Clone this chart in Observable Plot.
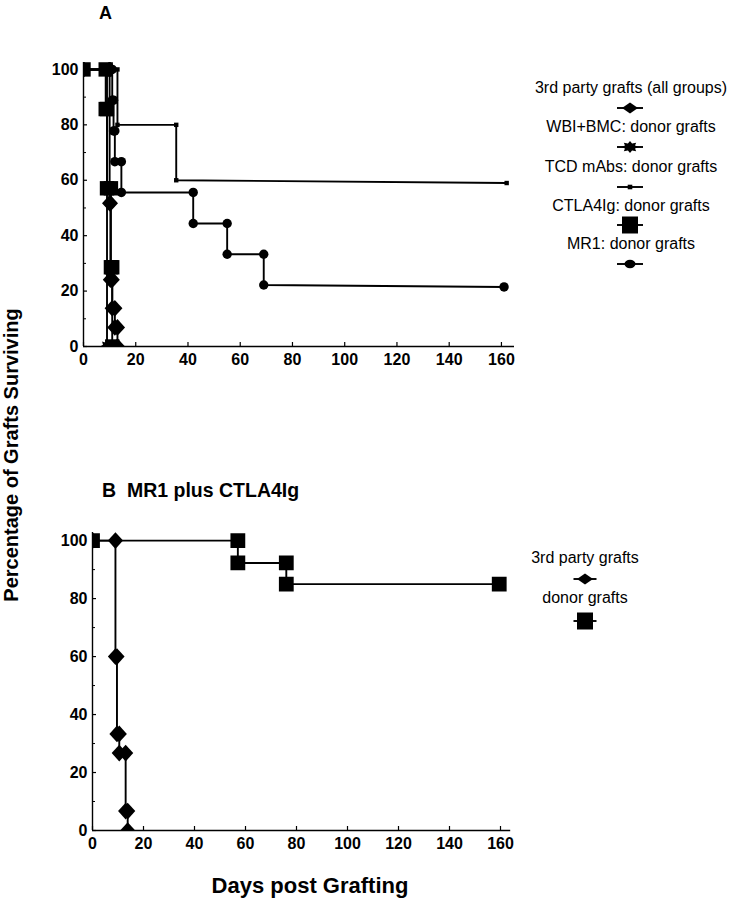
<!DOCTYPE html>
<html><head><meta charset="utf-8">
<script src="https://cdn.jsdelivr.net/npm/d3@7"></script>
<script src="https://cdn.jsdelivr.net/npm/@observablehq/plot@0.6"></script>
<style>
body{margin:0;background:#fff;}
#wrap{position:relative;width:732px;height:899px;overflow:hidden;font-family:"Liberation Sans",Arial,Helvetica,sans-serif;}
#wrap svg{position:absolute;}
</style></head><body><div id="wrap"></div>
<script>
// ---------- Panel A data (day, % surviving), vertices of Kaplan-Meier steps ----------
const aThirdDays  = [0, 10, 10, 10.3, 10.3, 11, 11, 12, 12, 13, 13];
const aThirdPct   = [100, 100, 51.7, 51.7, 24.1, 24.1, 13.8, 13.8, 6.9, 6.9, 0];
const aWbiDays    = [0, 9, 9];
const aWbiPct     = [100, 100, 0];
const aTcdDays    = [0, 13, 13, 35.5, 35.5, 162];
const aTcdPct     = [100, 100, 80, 80, 60, 59];
const aCtlaDays   = [0, 8.5, 8.5, 9, 9, 10.5, 10.5, 11, 11];
const aCtlaPct    = [100, 100, 85.7, 85.7, 57.1, 57.1, 28.6, 28.6, 0];
const aMr1Days    = [0, 11, 11, 11.5, 11.5, 12, 12, 14.5, 14.5, 42, 42, 55, 55, 69, 69, 161];
const aMr1Pct     = [100, 100, 88.9, 88.9, 77.8, 77.8, 66.7, 66.7, 55.6, 55.6, 44.4, 44.4, 33.3, 33.3, 22.2, 21.5];
const legendA     = ["3rd party grafts (all groups)", "WBI+BMC: donor grafts", "TCD mAbs: donor grafts", "CTLA4Ig: donor grafts", "MR1: donor grafts"];

// ---------- Panel B data ----------
const bThirdDays  = [0, 9, 9, 9.6, 9.6, 10.5, 10.5, 13, 13, 13.8, 13.8];
const bThirdPct   = [100, 100, 60, 60, 33.3, 33.3, 26.7, 26.7, 6.7, 6.7, 0];
const bDonorDays  = [0, 57, 57, 76, 76, 159.5];
const bDonorPct   = [100, 100, 92.3, 92.3, 85, 85];
const legendB     = ["3rd party grafts", "donor grafts"];

// ---------- tick values ----------
const xTicks = [0, 20, 40, 60, 80, 100, 120, 140, 160];
const yTicks = [0, 20, 40, 60, 80, 100];
const yMinor = [10, 30, 50, 70, 90];

// ---------- marker shapes ----------
const symDiamond = {draw(c, s){const r = Math.sqrt(s/Math.PI); c.moveTo(0,-r*1.1); c.lineTo(r,0); c.lineTo(0,r*1.1); c.lineTo(-r,0); c.closePath();}};
const symSquare = {draw(c, s){const r = Math.sqrt(s/Math.PI); c.moveTo(-r,-r); c.lineTo(r,-r); c.lineTo(r,r); c.lineTo(-r,r); c.closePath();}};
const symStar = {draw(c, s){const r = Math.sqrt(s/Math.PI); for (let i = 0; i < 16; i++){const a = i*Math.PI/8 - Math.PI/2; const rr = i % 2 ? r*0.62 : r; const x = rr*Math.cos(a), y = rr*Math.sin(a); if (i) c.lineTo(x,y); else c.moveTo(x,y);} c.closePath();}};

function rows(group, days, pct){ return days.map((d, i) => ({group, day: d, pct: pct[i]})); }

const seriesA = [
  {rows: rows(legendA[0], aThirdDays, aThirdPct), sym: symDiamond, r: 7.6},
  {rows: rows(legendA[1], aWbiDays, aWbiPct), sym: symStar, r: 7},
  {rows: rows(legendA[2], aTcdDays, aTcdPct), sym: symSquare, r: 2.2},
  {rows: rows(legendA[3], aCtlaDays, aCtlaPct), sym: symSquare, r: 7.2},
  {rows: rows(legendA[4], aMr1Days, aMr1Pct), sym: "circle", r: 4.7}
];
const seriesB = [
  {rows: rows(legendB[0], bThirdDays, bThirdPct), sym: symDiamond, r: 7.6},
  {rows: rows(legendB[1], bDonorDays, bDonorPct), sym: symSquare, r: 7.4}
];

const font = {fontFamily: '"Liberation Sans", Arial, sans-serif', fontSize: "16px", fontWeight: "bold", color: "black", background: "white", overflow: "visible"};

function panel(series, o){
  const marks = [
    Plot.ruleX([0], {stroke: "black", strokeWidth: 1.4}),
    Plot.ruleY([0], {stroke: "black", strokeWidth: 1.4}),
    Plot.axisX(xTicks, {label: null, tickSize: -4, tickPadding: 11.5, fontWeight: "bold", fontSize: 16, strokeWidth: 1.2}),
    Plot.axisY(yTicks, {label: null, tickSize: -4, tickPadding: 9, fontWeight: "bold", fontSize: 16, strokeWidth: 1.2}),
    Plot.axisY(yMinor, {label: null, tickSize: -3, tickFormat: () => "", strokeWidth: 1}),
  ];
  for (const s of series) {
    marks.push(Plot.line(s.rows, {x: "day", y: "pct", stroke: "black", strokeWidth: 1.9, clip: true}));
  }
  for (const s of series) {
    marks.push(Plot.dot(s.rows, {x: "day", y: "pct", symbol: s.sym, r: s.r, fill: "black", stroke: "none", clip: true}));
  }
  return Plot.plot({
    width: o.width, height: o.height,
    marginLeft: o.ml, marginRight: o.mr, marginTop: o.mt, marginBottom: o.mb,
    x: {domain: o.xd, label: null}, y: {domain: o.yd, label: null},
    style: font,
    marks
  });
}

const wrap = document.getElementById("wrap");
const pA = panel(seriesA, {width: 520, height: 376, ml: 83, mr: 6, mt: 62, mb: 30, xd: [0, 165], yd: [0, 102.5]});
pA.style.left = "0px"; pA.style.top = "0px";
wrap.appendChild(pA);
const pB = panel(seriesB, {width: 518, height: 360, ml: 92, mr: 7.8, mt: 32, mb: 30, xd: [0, 164], yd: [0, 102.8]});
pB.style.left = "0px"; pB.style.top = "500px";
wrap.appendChild(pB);

// ---------- titles and legends (overlay) ----------
const ov = d3.create("svg").attr("width", 732).attr("height", 899)
  .style("left", "0px").style("top", "0px").style("pointer-events", "none")
  .attr("font-family", '"Liberation Sans", Arial, sans-serif');

ov.append("text").attr("x", 105.5).attr("y", 19).attr("text-anchor", "middle")
  .attr("font-weight", "bold").attr("font-size", 18).text("A");
ov.append("text").attr("x", 102).attr("y", 497).attr("xml:space", "preserve").style("white-space", "pre")
  .attr("font-weight", "bold").attr("font-size", 19.5).text("B  MR1 plus CTLA4Ig");
ov.append("text").attr("transform", "translate(18,455) rotate(-90)").attr("text-anchor", "middle")
  .attr("font-weight", "bold").attr("font-size", 20).text("Percentage of Grafts Surviving");
ov.append("text").attr("x", 310).attr("y", 893).attr("text-anchor", "middle")
  .attr("font-weight", "bold").attr("font-size", 22).text("Days post Grafting");

function legendMarker(g, x, y, half, kind){
  g.append("line").attr("x1", x - half).attr("x2", x + half).attr("y1", y).attr("y2", y)
    .attr("stroke", "black").attr("stroke-width", 1.9);
  let d;
  if (kind === "diamond") d = `M${x-8},${y}L${x},${y-5.5}L${x+8},${y}L${x},${y+5.5}Z`;
  else if (kind === "bigsquare") d = `M${x-8},${y-8.5}h16v17h-16Z`;
  else if (kind === "smallsquare") d = `M${x-2.3},${y-2.3}h4.6v4.6h-4.6Z`;
  else if (kind === "circle") d = d3.symbol(d3.symbolCircle, Math.PI*5.2*4.4)();
  else if (kind === "star") d = d3.symbol(symStar, Math.PI*49)();
  const p = g.append("path").attr("d", d).attr("fill", "black");
  if (kind === "circle") p.attr("transform", `translate(${x},${y}) scale(1.15,0.87)`);
  if (kind === "star") p.attr("transform", `translate(${x},${y}) scale(1.25,0.85)`);
}

const legAText = [87, 126, 166, 205, 243];
const legAMark = [108, 147, 187, 225, 264];
const legAKinds = ["diamond", "star", "smallsquare", "bigsquare", "circle"];
legendA.forEach((t, i) => {
  ov.append("text").attr("x", 631).attr("y", legAText[i] + 5.7).attr("text-anchor", "middle")
    .attr("font-size", 16).text(t);
  legendMarker(ov, 630, legAMark[i], 13, legAKinds[i]);
});
const legBText = [557, 597];
const legBMark = [579, 621];
const legBKinds = ["diamond", "bigsquare"];
legendB.forEach((t, i) => {
  ov.append("text").attr("x", 585).attr("y", legBText[i] + 5.7).attr("text-anchor", "middle")
    .attr("font-size", 16).text(t);
  legendMarker(ov, 585, legBMark[i], 11.5, legBKinds[i]);
});
wrap.appendChild(ov.node());
</script></body></html>
